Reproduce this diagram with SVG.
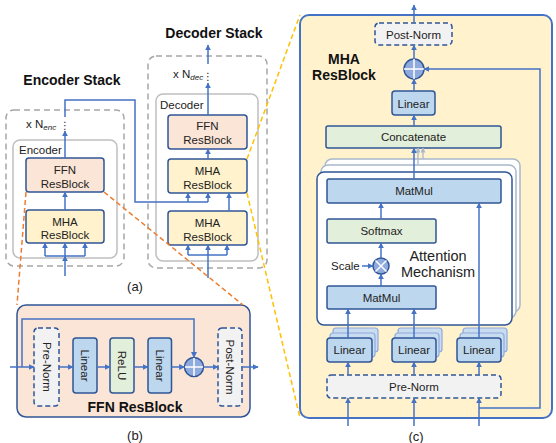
<svg xmlns="http://www.w3.org/2000/svg" width="556" height="443" viewBox="0 0 556 443">
<defs>
<marker id="ah" viewBox="0 0 10 10" refX="9" refY="5" markerWidth="6" markerHeight="6" markerUnits="userSpaceOnUse" orient="auto"><path d="M0,0 L10,5 L0,10 z" fill="#4472c4"/></marker>
<marker id="ahl" viewBox="0 0 10 10" refX="9" refY="5" markerWidth="5" markerHeight="5" markerUnits="userSpaceOnUse" orient="auto"><path d="M0,0 L10,5 L0,10 z" fill="#a9b8cc"/></marker>
<style>
text{font-family:"Liberation Sans",Arial,sans-serif;fill:#222;}
.t{font-size:11.5px;text-anchor:middle;}
.tb{font-size:14px;font-weight:bold;text-anchor:middle;fill:#111;}
.lab{font-size:13px;text-anchor:middle;}
.c{fill:none;stroke:#4472c4;stroke-width:1.5;}
.a{marker-end:url(#ah);}
.cl{fill:none;stroke:#a9b8cc;stroke-width:1.3;marker-end:url(#ahl);}
.dash{fill:none;stroke:#a6a6a6;stroke-width:1.5;stroke-dasharray:6 4;}
.grp{fill:#fff;stroke:#bfbfbf;stroke-width:1.5;}
.ffn{fill:#fbe5d6;stroke:#2f5597;stroke-width:1.5;}
.mha{fill:#fff2cc;stroke:#2f5597;stroke-width:1.5;}
.lin{fill:#bdd7ee;stroke:#2f5597;stroke-width:1.5;}
.linb{fill:#c9ddf1;stroke:#8faadc;stroke-width:1.2;}
.grn{fill:#e2efda;stroke:#2f5597;stroke-width:1.5;}
.nrm{fill:#f2f2f2;stroke:#2f5597;stroke-width:1.5;stroke-dasharray:5 3;}
.op{fill:#8faadc;stroke:#2f5597;stroke-width:1.5;}
.opx{stroke:#fff;stroke-width:1.5;}
.back{fill:#fff;stroke:#a9b8cc;stroke-width:1.5;}
.zo{fill:none;stroke:#ed7d31;stroke-width:1.5;stroke-dasharray:5 3;}
.zy{fill:none;stroke:#ffc000;stroke-width:1.5;stroke-dasharray:5 3;}
</style>
</defs>
<rect width="556" height="443" fill="#fff"/>

<!-- (a) encoder stack -->
<g id="encoder-stack">
<text class="tb" x="72" y="85">Encoder Stack</text>
<rect class="dash" x="6" y="110" width="118" height="156" rx="8"/>
<text x="26" y="128" style="font-size:11.5px">x N<tspan font-size="8" font-style="italic" dy="2">enc</tspan></text>
<text x="65" y="129" style="font-size:10px;text-anchor:middle;font-family:'DejaVu Sans',sans-serif">⋮</text>
</g>
<g id="encoder">
<rect class="grp" x="13" y="140" width="104" height="118" rx="7"/>
<text x="19" y="154" style="font-size:11.5px">Encoder</text>
</g>
<g id="enc-ffn">
<rect class="ffn" x="26" y="158" width="78" height="34" rx="3"/>
<text class="t" x="65" y="174">FFN</text>
<text class="t" x="65" y="188">ResBlock</text>
</g>
<g id="enc-mha">
<rect class="mha" x="26" y="210" width="78" height="33" rx="3"/>
<text class="t" x="65" y="226">MHA</text>
<text class="t" x="65" y="239">ResBlock</text>
</g>

<!-- decoder stack -->
<g id="decoder-stack">
<text class="tb" x="214" y="38">Decoder Stack</text>
<rect class="dash" x="148" y="56" width="119" height="212" rx="8"/>
<text x="173" y="78" style="font-size:11.5px">x N<tspan font-size="8" font-style="italic" dy="2">dec</tspan></text>
<text x="208" y="80" style="font-size:10px;text-anchor:middle;font-family:'DejaVu Sans',sans-serif">⋮</text>
</g>
<g id="decoder">
<rect class="grp" x="156" y="94" width="102" height="167" rx="7"/>
<text x="160" y="109" style="font-size:11.5px">Decoder</text>
</g>
<g id="dec-ffn">
<rect class="ffn" x="168" y="115" width="79" height="34" rx="3"/>
<text class="t" x="207.5" y="130">FFN</text>
<text class="t" x="207.5" y="144">ResBlock</text>
</g>
<g id="dec-mha2">
<rect class="mha" x="168" y="159" width="79" height="34" rx="3"/>
<text class="t" x="207.5" y="175">MHA</text>
<text class="t" x="207.5" y="189">ResBlock</text>
</g>
<g id="dec-mha1">
<rect class="mha" x="168" y="211" width="79" height="34" rx="3"/>
<text class="t" x="207.5" y="227">MHA</text>
<text class="t" x="207.5" y="241">ResBlock</text>
</g>
<text class="lab" x="135" y="291">(a)</text>

<!-- (b) FFN ResBlock -->
<g id="ffn-resblock">
<rect class="ffn" x="17" y="305" width="233" height="112" rx="9"/>
<text class="tb" x="135" y="412">FFN ResBlock</text>
</g>
<g id="ffn-prenorm">
<rect class="nrm" x="34" y="328" width="25" height="78" rx="4"/>
<text class="t" transform="translate(46.5,367) rotate(90)" y="4">Pre-Norm</text>
</g>
<g id="ffn-linear1">
<rect class="lin" x="73" y="338" width="24" height="55" rx="3"/>
<text class="t" transform="translate(85,365.5) rotate(90)" y="4">Linear</text>
</g>
<g id="ffn-relu">
<rect class="grn" x="110" y="338" width="24" height="55" rx="3"/>
<text class="t" transform="translate(122,365.5) rotate(90)" y="4">ReLU</text>
</g>
<g id="ffn-linear2">
<rect class="lin" x="148" y="338" width="23.5" height="55" rx="3"/>
<text class="t" transform="translate(159.7,365.5) rotate(90)" y="4">Linear</text>
</g>
<g id="ffn-add">
<circle class="op" cx="194" cy="367" r="9.5"/>
<line class="opx" x1="185" y1="367" x2="203" y2="367"/>
<line class="opx" x1="194" y1="358" x2="194" y2="376"/>
</g>
<g id="ffn-postnorm">
<rect class="nrm" x="218" y="328" width="24" height="78" rx="4"/>
<text class="t" transform="translate(230,367) rotate(90)" y="4">Post-Norm</text>
</g>
<text class="lab" x="135" y="440">(b)</text>

<!-- (c) MHA ResBlock -->
<g id="mha-resblock">
<rect x="300" y="15" width="252" height="403" rx="9" fill="#fff2cc" stroke="#4472c4" stroke-width="2"/>
<text class="tb" x="344" y="64">MHA</text>
<text class="tb" x="344" y="80">ResBlock</text>
</g>
<g id="mha-postnorm">
<rect class="nrm" x="375" y="23" width="77" height="22" rx="4"/>
<text class="t" x="413.5" y="38.5">Post-Norm</text>
</g>
<g id="mha-add">
<circle class="op" cx="414" cy="69" r="10"/>
<line class="opx" x1="404" y1="69" x2="424" y2="69"/>
<line class="opx" x1="414" y1="59" x2="414" y2="79"/>
</g>
<g id="mha-linear-out">
<rect class="lin" x="392" y="91" width="43" height="24" rx="3"/>
<text class="t" x="413.5" y="107.5">Linear</text>
</g>
<g id="concatenate">
<rect class="grn" x="326" y="126" width="175" height="22" rx="2"/>
<text class="t" x="413.5" y="141">Concatenate</text>
</g>
<g id="attention">
<rect class="back" x="325" y="159" width="195" height="153" rx="7"/>
<rect class="back" x="321" y="165" width="195" height="153" rx="7"/>
<rect x="317" y="172" width="195" height="153" rx="7" fill="#fff" stroke="#2f5597" stroke-width="1.5"/>
<text x="438" y="261" style="font-size:14.5px;text-anchor:middle">Attention</text>
<text x="438" y="277" style="font-size:14.5px;text-anchor:middle">Mechanism</text>
</g>
<g id="matmul-top">
<rect class="lin" x="327" y="179" width="174" height="24" rx="2"/>
<text class="t" x="414" y="195">MatMul</text>
</g>
<g id="softmax">
<rect class="grn" x="327" y="219" width="109" height="24" rx="2"/>
<text class="t" x="381.5" y="235">Softmax</text>
</g>
<g id="scale-mul">
<text x="331" y="270" style="font-size:11.5px">Scale</text>
<circle class="op" cx="381" cy="266" r="8"/>
<line class="opx" x1="375.5" y1="260.5" x2="386.5" y2="271.5"/>
<line class="opx" x1="386.5" y1="260.5" x2="375.5" y2="271.5"/>
</g>
<g id="matmul-bottom">
<rect class="lin" x="327" y="286" width="109" height="23" rx="2"/>
<text class="t" x="381.5" y="301.5">MatMul</text>
</g>
<g id="linear-q">
<rect class="linb" x="333" y="328" width="45" height="24" rx="3"/>
<rect class="linb" x="330" y="333" width="45" height="24" rx="3"/>
<rect class="lin" x="327" y="338" width="45" height="24" rx="3"/>
<text class="t" x="349.5" y="354">Linear</text>
</g>
<g id="linear-k">
<rect class="linb" x="398" y="328" width="44" height="24" rx="3"/>
<rect class="linb" x="395" y="333" width="44" height="24" rx="3"/>
<rect class="lin" x="392" y="338" width="44" height="24" rx="3"/>
<text class="t" x="414" y="354">Linear</text>
</g>
<g id="linear-v">
<rect class="linb" x="463" y="328" width="44" height="24" rx="3"/>
<rect class="linb" x="460" y="333" width="44" height="24" rx="3"/>
<rect class="lin" x="457" y="338" width="44" height="24" rx="3"/>
<text class="t" x="479" y="354">Linear</text>
</g>
<g id="mha-prenorm">
<rect class="nrm" x="327" y="375" width="174" height="23" rx="4"/>
<text class="t" x="414" y="391">Pre-Norm</text>
</g>
<text class="lab" x="416" y="441">(c)</text>

<!-- connectors -->
<g id="connectors">
<!-- encoder -->
<line class="c a" x1="65" y1="276" x2="65" y2="256"/>
<polyline class="c" points="45,256 85,256"/>
<line class="c a" x1="45" y1="256" x2="45" y2="243"/>
<line class="c a" x1="65" y1="256" x2="65" y2="243"/>
<line class="c a" x1="85" y1="256" x2="85" y2="243"/>
<line class="c a" x1="65" y1="210" x2="65" y2="192"/>
<line class="c a" x1="65" y1="158" x2="65" y2="131"/>
<polyline class="c" points="65,117 65,100 135,100 135,202 208,202"/>
<line class="c a" x1="188" y1="202" x2="188" y2="193"/>
<line class="c a" x1="208" y1="202" x2="208" y2="193"/>
<!-- decoder -->
<line class="c" x1="208" y1="278" x2="208" y2="255"/>
<polyline class="c" points="188,255 227,255"/>
<line class="c a" x1="188" y1="255" x2="188" y2="245"/>
<line class="c a" x1="208" y1="255" x2="208" y2="245"/>
<line class="c a" x1="227" y1="255" x2="227" y2="245"/>
<line class="c a" x1="229" y1="211" x2="229" y2="193"/>
<line class="c a" x1="208" y1="159" x2="208" y2="149"/>
<line class="c a" x1="208" y1="115" x2="208" y2="83"/>
<line class="c a" x1="208" y1="64" x2="208" y2="45"/>
<!-- FFN resblock -->
<line class="c a" x1="10" y1="367" x2="34" y2="367"/>
<polyline class="c a" points="22,367 22,319 194,319 194,357.5"/>
<line class="c a" x1="59" y1="367" x2="73" y2="367"/>
<line class="c a" x1="97" y1="367" x2="110" y2="367"/>
<line class="c a" x1="134" y1="367" x2="148" y2="367"/>
<line class="c a" x1="171.5" y1="367" x2="184.5" y2="367"/>
<line class="c a" x1="203.5" y1="367" x2="218" y2="367"/>
<line class="c a" x1="242" y1="367" x2="258" y2="367"/>
<!-- MHA resblock -->
<line class="c a" x1="348" y1="426" x2="348" y2="398"/>
<line class="c a" x1="414" y1="426" x2="414" y2="398"/>
<line class="c a" x1="479" y1="426" x2="479" y2="398"/>
<polyline class="c a" points="479,408 540,408 540,69 424,69"/>
<line class="c a" x1="348" y1="375" x2="348" y2="362"/>
<line class="c a" x1="414" y1="375" x2="414" y2="362"/>
<line class="c a" x1="479" y1="375" x2="479" y2="362"/>
<line class="c a" x1="348" y1="338" x2="348" y2="309"/>
<line class="c a" x1="414" y1="338" x2="414" y2="309"/>
<line class="c a" x1="479" y1="338" x2="479" y2="203"/>
<line class="c a" x1="381" y1="286" x2="381" y2="274"/>
<line class="c a" x1="362" y1="266" x2="373" y2="266"/>
<line class="c a" x1="381" y1="258" x2="381" y2="243"/>
<line class="c a" x1="381" y1="219" x2="381" y2="203"/>
<line class="cl" x1="423" y1="159" x2="423" y2="148"/>
<line class="cl" x1="418" y1="165" x2="418" y2="148"/>
<line class="c a" x1="414" y1="179" x2="414" y2="148"/>
<line class="c a" x1="414" y1="126" x2="414" y2="115"/>
<line class="c a" x1="414" y1="91" x2="414" y2="79"/>
<line class="c a" x1="414" y1="59" x2="414" y2="45"/>
<line class="c a" x1="414" y1="23" x2="414" y2="5"/>
</g>

<!-- zoom guides (drawn on top) -->
<g id="zoom-lines">
<line class="zo" x1="26" y1="192" x2="17" y2="305"/>
<line class="zo" x1="104" y1="192" x2="243" y2="305"/>
<line class="zy" x1="247" y1="159" x2="300" y2="15"/>
<line class="zy" x1="247" y1="193" x2="300" y2="418"/>
</g>
</svg>
